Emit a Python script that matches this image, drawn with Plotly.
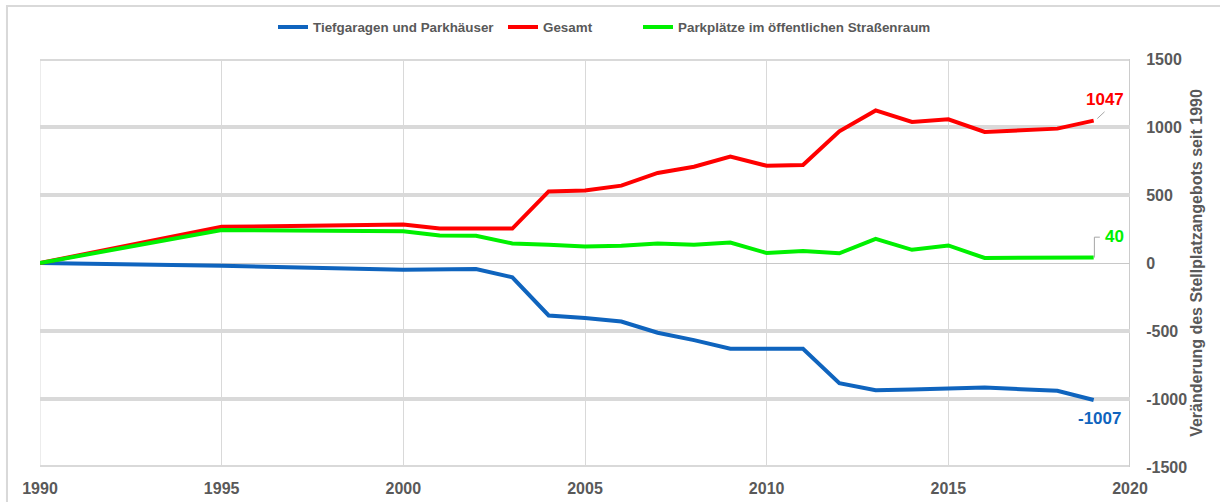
import plotly.graph_objects as go

years = [1990, 1995, 2000, 2001, 2002, 2003, 2004, 2005, 2006, 2007, 2008,
         2009, 2010, 2011, 2012, 2013, 2014, 2015, 2016, 2017, 2018, 2019]
tiefgaragen = [0, -20, -50, -44, -44, -105, -386, -405, -430, -513, -567,
               -630, -630, -630, -883, -935, -930, -921, -916, -928, -940, -1007]
gesamt = [0, 266, 283, 253, 253, 253, 526, 533, 569, 662, 708,
          783, 715, 720, 968, 1122, 1037, 1056, 964, 976, 988, 1047]
parkplaetze = [0, 242, 233, 202, 200, 144, 134, 122, 127, 144, 134,
               151, 73, 88, 71, 178, 97, 129, 37, 38, 44, 40]

x_ticks = [1990, 1995, 2000, 2005, 2010, 2015, 2020]
y_ticks = [-1500, -1000, -500, 0, 500, 1000, 1500]

names = ["Tiefgaragen und Parkhäuser", "Gesamt", "Parkplätze im öffentlichen Straßenraum"]
colors = ["#0F64BE", "#FF0000", "#00F000"]
y_title = "Veränderung des Stellplatzangebots seit 1990"

FONT = "Liberation Sans, Arial, sans-serif"
GREY = "#595959"
GRID = "#D9D9D9"

PLOT_L, PLOT_W = 40, 1090
legend_ids = ["legend", "legend2", "legend3"]
legend_text_px = [315, 545, 680]   # left edge of legend texts in pixels

fig = go.Figure()
for name, vals, col, lid in zip(names, [tiefgaragen, gesamt, parkplaetze], colors, legend_ids):
    fig.add_trace(go.Scatter(x=years, y=vals, mode="lines", name=name, legend=lid,
                             line=dict(color=col, width=4), hoverinfo="x+y"))

# end labels
last = len(years) - 1
fig.add_annotation(x=years[last], y=gesamt[last], text="<b>%d</b>" % gesamt[last],
                   showarrow=False, xshift=11, yshift=21,
                   font=dict(family=FONT, size=17, color=colors[1]))
fig.add_annotation(x=years[last], y=tiefgaragen[last], text="<b>%d</b>" % tiefgaragen[last],
                   showarrow=False, xshift=6, yshift=-19,
                   font=dict(family=FONT, size=17, color=colors[0]))
fig.add_annotation(x=years[last], y=parkplaetze[last], text="<b>%d</b>" % parkplaetze[last],
                   showarrow=False, xshift=21, yshift=21,
                   font=dict(family=FONT, size=17, color=colors[2]))

# leader lines
fig.add_shape(type="line", xref="x", yref="y",
              x0=years[last] + 0.1, y0=gesamt[last] + 15,
              x1=years[last] + 0.3, y1=gesamt[last] + 65,
              line=dict(color="#A6A6A6", width=1))
fig.add_shape(type="path", xref="x", yref="y",
              path="M %f,%f L %f,%f L %f,%f" % (years[last] + 0.02, parkplaetze[last],
                                                years[last] + 0.02, parkplaetze[last] + 150,
                                                years[last] + 0.17, parkplaetze[last] + 150),
              line=dict(color="#A6A6A6", width=1))

# plot frame: edge gridlines
fig.add_shape(type="line", xref="paper", yref="y", x0=0, x1=1, y0=y_ticks[-1], y1=y_ticks[-1],
              line=dict(color=GRID, width=4), layer="below")
fig.add_shape(type="line", xref="paper", yref="y", x0=0, x1=1, y0=y_ticks[0], y1=y_ticks[0],
              line=dict(color=GRID, width=4), layer="below")
fig.add_shape(type="line", xref="x", yref="paper", x0=x_ticks[0], x1=x_ticks[0], y0=0, y1=1,
              line=dict(color=GRID, width=1), layer="below")
fig.add_shape(type="line", xref="x", yref="paper", x0=x_ticks[-1], x1=x_ticks[-1], y0=0, y1=1,
              line=dict(color="#CCCCCC", width=2), layer="below")

# outer border
fig.add_shape(type="rect", xref="paper", yref="paper",
              x0=-0.0303, x1=1.09, y0=-0.12, y1=1.1299,
              line=dict(color=GRID, width=2), layer="below")

legend_common = dict(orientation="h", yanchor="middle", y=1.078, xanchor="left",
                     font=dict(family=FONT, size=13.4, color=GREY, weight="bold"),
                     itemwidth=30, bgcolor="rgba(0,0,0,0)")
legends = {}
for lid, tx in zip(legend_ids, legend_text_px):
    legends[lid] = dict(legend_common, x=(tx - 42 - PLOT_L) / PLOT_W)

fig.update_layout(
    width=1220, height=502,
    margin=dict(l=40, r=90, t=59, b=35, autoexpand=False),
    paper_bgcolor="white", plot_bgcolor="white",
    font=dict(family=FONT, color=GREY),
    showlegend=True,
    **legends,
    xaxis=dict(range=[1990, 2020], tickvals=x_ticks, ticktext=[str(v) for v in x_ticks],
               showgrid=True, gridcolor=GRID, gridwidth=1, zeroline=False, automargin=False,
               showline=False, ticks="outside", ticklen=7, tickcolor="rgba(0,0,0,0)",
               tickfont=dict(family=FONT, size=16, color=GREY, weight="bold")),
    yaxis=dict(range=[-1500, 1500], tickvals=y_ticks, ticktext=[str(v) for v in y_ticks],
               side="right", showgrid=True, gridcolor=GRID, gridwidth=4, automargin=False,
               zeroline=True, zerolinecolor="#C8C8C8", zerolinewidth=1,
               showline=False, ticks="outside", ticklen=12, tickcolor="rgba(0,0,0,0)",
               tickfont=dict(family=FONT, size=16, color=GREY, weight="bold"),
               title=dict(text=y_title, standoff=4,
                          font=dict(family=FONT, size=16, color=GREY, weight="bold"))),
)

fig.write_html("out.html", config={"displayModeBar": False},
               post_script="document.body.style.margin='0';")
